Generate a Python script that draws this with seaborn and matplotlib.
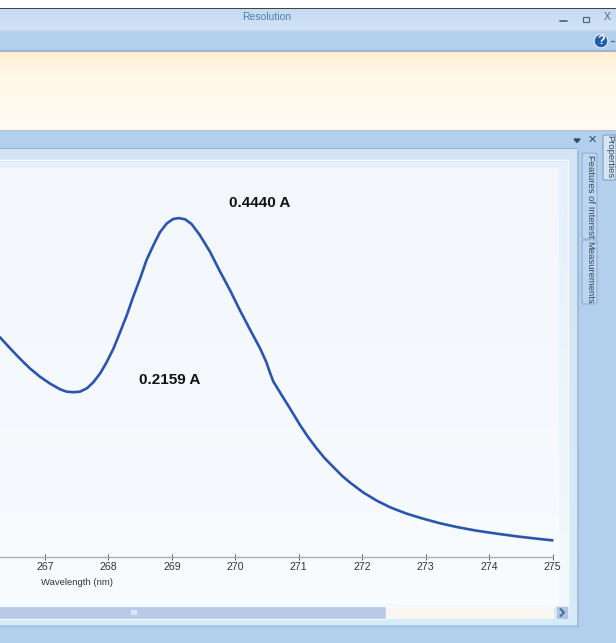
import numpy as np
import pandas as pd
import matplotlib
matplotlib.use("Agg")
import matplotlib.pyplot as plt
from matplotlib.colors import LinearSegmentedColormap
from matplotlib.patches import Rectangle, FancyBboxPatch, Circle
import seaborn as sns

# Spectrum
wavelength = [266.29, 266.45, 266.61, 266.76, 266.92, 267.08, 267.24, 267.34, 267.45, 267.55,
              267.66, 267.76, 267.87, 267.97, 268.08, 268.18, 268.29, 268.39, 268.50, 268.60,
              268.71, 268.81, 268.92, 269.02, 269.11, 269.21, 269.31, 269.44, 269.60, 269.76,
              269.92, 270.07, 270.23, 270.39, 270.49, 270.55, 270.60, 270.73, 270.86, 271.02,
              271.15, 271.28, 271.41, 271.55, 271.68, 271.81, 272.02, 272.23, 272.44, 272.70,
              272.96, 273.23, 273.49, 273.80, 274.12, 274.43, 274.75, 275.00]
absorbance = [0.2878, 0.2733, 0.2594, 0.2472, 0.2362, 0.2271, 0.2196, 0.2166, 0.2159, 0.2166,
              0.2210, 0.2288, 0.2406, 0.2550, 0.2733, 0.2939, 0.3170, 0.3410, 0.3651, 0.3891,
              0.4087, 0.4253, 0.4371, 0.4428, 0.4440, 0.4423, 0.4362, 0.4218, 0.4000, 0.3738,
              0.3489, 0.3236, 0.2982, 0.2733, 0.2550, 0.2406, 0.2297, 0.2122, 0.1948, 0.1729,
              0.1568, 0.1424, 0.1293, 0.1175, 0.1065, 0.0974, 0.0843, 0.0738, 0.0651, 0.0568,
              0.0502, 0.0441, 0.0393, 0.0345, 0.0306, 0.0271, 0.0240, 0.0218]
tick_values = [267, 268, 269, 270, 271, 272, 273, 274, 275]
peak_label = "0.4440 A"
valley_label = "0.2159 A"
x_title = "Wavelength (nm)"
window_title = "Resolution"
side_tabs = ["Features of Interest", "Measurements"]

W, H = 616, 643
sns.set_theme(style="white")
plt.rcParams['font.family'] = ['Liberation Sans', 'DejaVu Sans']

fig = plt.figure(figsize=(W / 100, H / 100), dpi=100)
fig.patch.set_facecolor("white")

# window chrome, drawn in pixel coordinates
ui = fig.add_axes([0, 0, 1, 1])
ui.set_xlim(0, W)
ui.set_ylim(H, 0)
ui.axis("off")


def grad(x0, x1, y0, y1, top, bottom):
    cmap = LinearSegmentedColormap.from_list("g", [top, bottom])
    arr = np.linspace(0, 1, 64).reshape(-1, 1)
    ui.imshow(arr, cmap=cmap, extent=[x0, x1, y1, y0], aspect="auto", zorder=1)


def box(x0, y0, x1, y1, color, z=2, edge="none", lw=0.8):
    ui.add_patch(Rectangle((x0, y0), x1 - x0, y1 - y0, facecolor=color, edgecolor=edge, lw=lw, zorder=z))


box(0, 0, W, H, "#b2d0ee", z=0)
box(0, 0, W, 8, "white")
box(0, 7.5, W, 9, "#3f4448")
grad(0, W, 9, 30, "#c3daf1", "#d3e4f6")
box(0, 30, W, 32, "#bcd6f0")
box(0, 32, W, 50, "#b2d0ee")
box(0, 50, W, 51.5, "#9db4cc")
grad(0, W, 51.5, 75, "#ffeed3", "#fff7e8")
grad(0, W, 75, 130, "#fff7e8", "#fffbf4")
box(0, 129.5, W, 130.5, "#b7c0c8")
box(0, 130.5, W, 148, "#b2d0ee")
box(0, 147.5, 578, 148.5, "#8fb0d2")

# document panel
grad(0, 578, 149, 628, "#d2e4f6", "#d5ecf8")
grad(0, 568, 162, 608, "#e6f0fa", "#f2f9fe")
ui.add_patch(Rectangle((-2, 159.5), 570, 447, facecolor="none", edgecolor="#f7fbff", lw=1, zorder=3))
grad(0, 559, 168, 604, "#f3f7fc", "#f8fcff")
box(0, 625, 577, 628, "#a5c9e6")
box(577, 150, 578.5, 628, "#a3bdd8")
box(578.5, 150, W, H, "#b2d0ee", z=2)
box(0, 628, W, H, "#b2d0ee")

# scrollbar
box(0, 606, 554, 619, "#f8f6ef")
ui.add_patch(Rectangle((-2, 606), 387.5, 13, facecolor="#b8cae8", edgecolor="#f4f8ff", lw=1, zorder=3))
box(131, 609.5, 137, 615, "#dbe5f5", z=4)
ui.add_patch(Rectangle((556, 606), 12, 13, facecolor="#adc4e6", edgecolor="#dfe9f6", lw=0.8, zorder=3))
ui.plot([560.5, 564, 560.5], [609, 612.5, 616], color="#47709f", lw=1.5, zorder=4)

# title bar text and window buttons
ui.text(267, 17, window_title, color="#4f7fae", fontsize=7.5, ha="center", va="center", zorder=5)
ui.plot([560, 567], [20.5, 20.5], color="#3f5f80", lw=1.2, zorder=5)
ui.add_patch(Rectangle((583, 16.5), 6, 5, facecolor="none", edgecolor="#4a6a8c", lw=0.9, zorder=5))
ui.text(607, 17.5, "X", color="#4a6a8c", fontsize=7.5, ha="center", va="center", zorder=5)
ui.add_patch(Circle((601, 41), 6.8, facecolor="#1f5fae", edgecolor="#dfeaf6", lw=0.8, zorder=5))
ui.text(601, 41, "?", color="white", fontsize=9, fontweight="bold", ha="center", va="center", zorder=6)
ui.plot([610.5, 613.5], [41, 41], color="#4a6a8c", lw=1, zorder=5)
ui.fill([574, 580, 577], [139, 139, 142.5], color="#2f4f6f", zorder=5)
ui.text(592, 140, "✕", color="#2f4f6f", fontsize=8, ha="center", va="center", family="DejaVu Sans", zorder=5)

# side tabs
ui.add_patch(FancyBboxPatch((582, 153), 15, 86, boxstyle="round,pad=0,rounding_size=2",
                            facecolor="#bcd6f0", edgecolor="#8fb0d2", lw=0.8, zorder=3))
ui.add_patch(FancyBboxPatch((582, 240), 15, 64, boxstyle="round,pad=0,rounding_size=2",
                            facecolor="#bcd6f0", edgecolor="#8fb0d2", lw=0.8, zorder=3))
ui.add_patch(FancyBboxPatch((603, 135), 13, 45, boxstyle="round,pad=0,rounding_size=2",
                            facecolor="#d6e6f7", edgecolor="#7f9fc0", lw=0.8, zorder=3))
ui.text(590, 196, side_tabs[0], rotation=-90, color="#33475c", fontsize=6.8, ha="center", va="center", zorder=5)
ui.text(590, 272, side_tabs[1], rotation=-90, color="#33475c", fontsize=6.8, ha="center", va="center", zorder=5)
ui.text(609.5, 157, "Properties", rotation=-90, color="#33475c", fontsize=6.8, ha="center", va="center", zorder=5)
ui.set_xlim(0, W)
ui.set_ylim(H, 0)

# the chart itself: y = 0 sits on the axis line at pixel 557
ax = fig.add_axes([0, (H - 557) / H, 552.5 / W, (557 - 170) / H])
ax.patch.set_alpha(0)
df = pd.DataFrame({"wavelength": wavelength, "absorbance": absorbance})
sns.lineplot(data=df, x="wavelength", y="absorbance", color="#2a55ad", lw=1.9, ax=ax,
             errorbar=None, sort=False, clip_on=False)
ax.set_xlim(266.29, 275)
ax.set_ylim(0, 0.507)
sns.despine(ax=ax, left=True)
ax.spines["bottom"].set_color("#a8abb0")
ax.spines["bottom"].set_linewidth(1)
ax.set_yticks([])
ax.set_xticks(tick_values)
ax.tick_params(axis="x", direction="inout", length=5, width=0.7, color="#55585c",
               labelsize=7.6, labelcolor="#333333", pad=1, bottom=True)
ax.set_xlabel(x_title, fontsize=6.8, color="#333333", labelpad=0)
ax.set_ylabel("")
ax.xaxis.set_label_coords(77 / 552.5, -21 / 387)

ax.annotate(peak_label, xy=(229, H - 203), xycoords="figure pixels", fontsize=11,
            fontweight="bold", color="#111111", va="center", ha="left", annotation_clip=False)
ax.annotate(valley_label, xy=(139, H - 380), xycoords="figure pixels", fontsize=11,
            fontweight="bold", color="#111111", va="center", ha="left", annotation_clip=False)

fig.savefig("out.png", dpi=100)
